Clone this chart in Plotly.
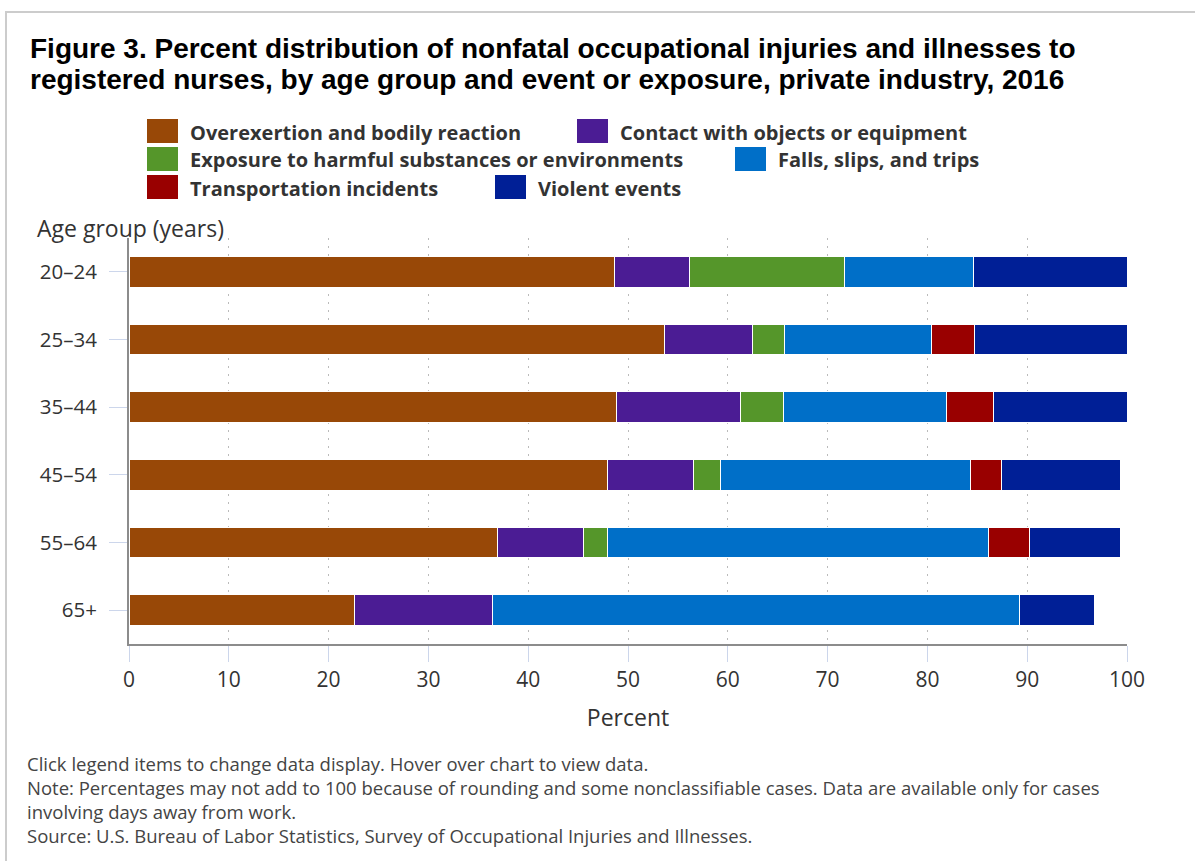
import plotly.graph_objects as go

# age groups (top to bottom) and percent shares by event or exposure
age_groups = ["20–24", "25–34", "35–44", "45–54", "55–64", "65+"]

overexertion = [48.6, 53.7, 48.8, 47.9, 36.9, 22.6]
contact = [7.6, 8.8, 12.5, 8.7, 8.6, 13.8]
exposure = [15.5, 3.2, 4.3, 2.7, 2.4, None]
falls = [12.9, 14.7, 16.3, 25.0, 38.2, 52.8]
transportation = [None, 4.3, 4.7, 3.1, 4.1, None]
violent = [15.4, 15.3, 13.4, 11.9, 9.1, 7.5]

series_names = [
    "Overexertion and bodily reaction",
    "Contact with objects or equipment",
    "Exposure to harmful substances or environments",
    "Falls, slips, and trips",
    "Transportation incidents",
    "Violent events",
]
series_values = [overexertion, contact, exposure, falls, transportation, violent]
colours = ["#984807", "#4B1C94", "#55962A", "#006FC8", "#990000", "#001F96"]

x_ticks = list(range(0, 101, 10))

title_lines = [
    "Figure 3. Percent distribution of nonfatal occupational injuries and illnesses to",
    "registered nurses, by age group and event or exposure, private industry, 2016",
]

footnotes = [
    "Click legend items to change data display. Hover over chart to view data.",
    "Note: Percentages may not add to 100 because of rounding and some nonclassifiable cases. Data are available only for cases",
    "involving days away from work.",
    "Source: U.S. Bureau of Labor Statistics, Survey of Occupational Injuries and Illnesses.",
]

# page geometry (pixels) -> paper coords
W, H = 1195, 861
L, R, T, B = 129, 1127, 238, 644


def px(x):
    return (x - L) / (R - L)


def py(y):
    return (B - y) / (B - T)


fig = go.Figure()
for name, vals, col in zip(series_names, series_values, colours):
    fig.add_trace(go.Bar(
        y=age_groups,
        x=vals,
        name=name,
        orientation="h",
        marker={"color": col, "line": {"color": "white", "width": 1}},
        showlegend=False,
        hovertemplate="%{y}<br>" + name + ": %{x:.1f}%<extra></extra>",
    ))

text_font = "Open Sans, Noto Sans, sans-serif"

fig.update_layout(
    width=W,
    height=H,
    margin={"l": L, "r": W - R, "t": T, "b": H - B},
    barmode="stack",
    bargap=0.55,
    plot_bgcolor="white",
    paper_bgcolor="white",
    font={"family": text_font, "color": "#333333", "size": 17},
    xaxis={
        "range": [0, 100],
        "tickvals": x_ticks,
        "showgrid": True,
        "gridcolor": "#bbbbbb",
        "griddash": "2px,6px",
        "gridwidth": 1,
        "zeroline": False,
        "showline": True,
        "linecolor": "#8c8c8c",
        "linewidth": 2,
        "ticks": "outside",
        "ticklen": 16,
        "tickcolor": "#ccd6eb",
        "tickfont": {"size": 21, "color": "#333333"},
        "title": {"text": "Percent", "font": {"size": 23, "color": "#333333"}, "standoff": 18},
        "fixedrange": True,
    },
    yaxis={
        "categoryorder": "array",
        "categoryarray": age_groups,
        "autorange": "reversed",
        "showgrid": False,
        "showline": True,
        "linecolor": "#8c8c8c",
        "linewidth": 2,
        "ticks": "outside",
        "ticklen": 18,
        "tickcolor": "#ccd6eb",
        "ticklabelstandoff": 8,
        "tickfont": {"size": 20.5, "color": "#333333"},
        "fixedrange": True,
    },
)

# partial frame around the figure (top and left edges visible)
fig.add_shape(type="rect", xref="paper", yref="paper",
              x0=px(6), x1=px(W + 20), y0=py(H + 20), y1=py(12),
              line={"color": "#cccccc", "width": 2}, fillcolor="rgba(0,0,0,0)", layer="below")

# two-line bold title
for i, line in enumerate(title_lines):
    fig.add_annotation(x=px(28), y=py(48 + 32 * i), xref="paper", yref="paper",
                       text="<b>" + line + "</b>", showarrow=False, xanchor="left", yanchor="middle",
                       font={"family": "Liberation Sans, Arial, sans-serif", "size": 28, "color": "#000000"})

# legend drawn as swatches + labels, in three rows
legend_rows = [(0, 1), (2, 3), (4, 5)]
row_y = [131, 159, 187]
col2_x = [577, 735, 495]
for r, (a, b) in enumerate(legend_rows):
    for idx, sx in ((a, 147), (b, col2_x[r])):
        fig.add_shape(type="rect", xref="paper", yref="paper",
                      x0=px(sx), x1=px(sx + 31), y0=py(row_y[r] + 12), y1=py(row_y[r] - 12),
                      line={"width": 0}, fillcolor=colours[idx])
        fig.add_annotation(x=px(sx + 41), y=py(row_y[r] + 1), xref="paper", yref="paper",
                           text=series_names[idx], showarrow=False, xanchor="left", yanchor="middle",
                           font={"size": 20, "color": "#333333", "weight": "bold"})

fig.add_annotation(x=px(35), y=py(228), xref="paper", yref="paper", text="Age group (years)",
                   showarrow=False, xanchor="left", yanchor="middle",
                   font={"size": 23, "color": "#333333"})

# footnotes as one left-aligned block
fig.add_annotation(x=px(25), y=py(749), xref="paper", yref="paper", text="<br>".join(footnotes),
                   showarrow=False, xanchor="left", yanchor="top", align="left",
                   font={"size": 18.5, "color": "#444444"})

# drop the default page margin so the figure sits at the window's top-left corner
fig.write_html("out.html", config={"displayModeBar": False},
               post_script="document.body.style.margin='0';")
